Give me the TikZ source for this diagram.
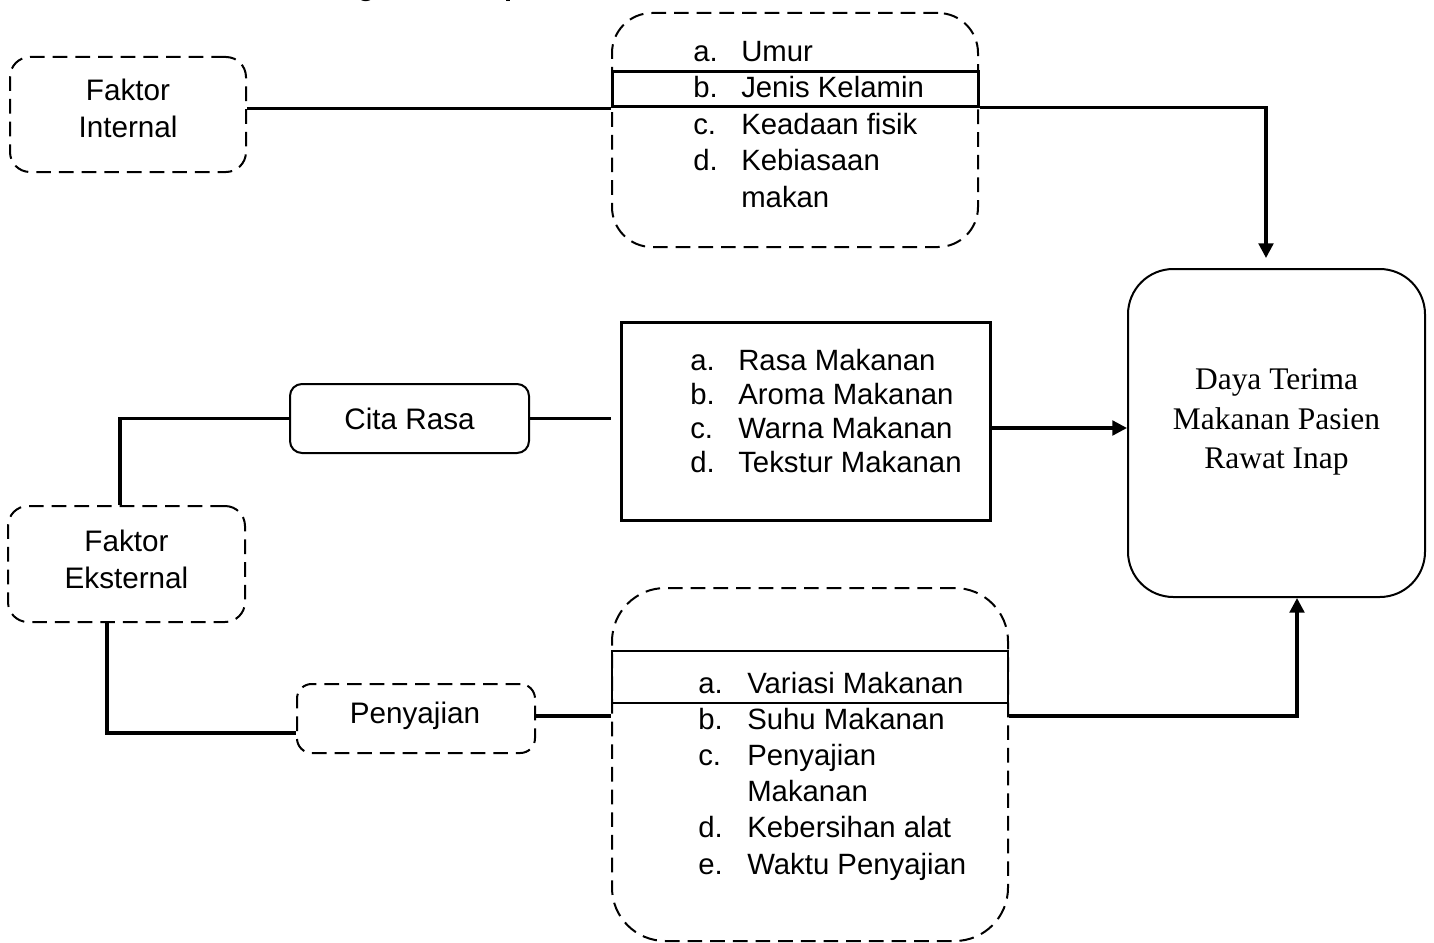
\documentclass[tikz,border=0pt]{standalone}
\usepackage{fontspec}
\setmainfont{Liberation Sans}
\newfontfamily\dayafont{Liberation Serif}
\usetikzlibrary{arrows.meta}
\begin{document}
\begin{tikzpicture}[x=0.75pt,y=-0.75pt,
  txt/.style={font=\fontsize{22.25}{27.75}\selectfont},
  dbox/.style={draw, line width=1.5pt, dash pattern=on 11pt off 6pt, rounded corners=#1, inner sep=0pt, align=center, txt},
  sbox/.style={draw, line width=1.5pt, rounded corners=#1, inner sep=0pt, align=center, txt},
  hbar/.style={draw, line width=#1, inner sep=0pt},
  btxt/.style={align=center, inner sep=0pt, txt},
  listtxt/.style={anchor=base west, inner sep=0pt, font=\fontsize{22}{#1}\selectfont},
  conn/.style={line width=2.4pt},
  arr/.style={-{Triangle[length=11pt,width=11pt]}}
]
\useasboundingbox (0,0) rectangle (1434,942);
\clip (0,0) rectangle (1434,942);
\fill[white] (0,0) rectangle (1434,942);

% title (cut off at the top edge, as in the reference)
\node[anchor=base west, inner sep=0pt, font=\bfseries\fontsize{21.75}{26}\selectfont] (title) at (275,-4) {Kerangka Konsep};

% internal factor
\node[dbox=15pt, minimum width=177pt, minimum height=86.25pt] (fi) at (128,114.5) {};
\node[btxt] (fit) at (128,108.5) {Faktor\\Internal};

% top list box
\node[dbox=30pt, minimum width=274.5pt, minimum height=175.5pt] (tb) at (795,130) {};
\node[hbar=2.25pt, minimum width=274.5pt, minimum height=25.5pt] (tbh) at (795,89) {};
\node[listtxt=27.4pt] (tl) at (693,61) {\begin{tabular}[t]{@{}p{36pt}@{}l@{}}
a. & Umur\\
b. & Jenis Kelamin\\
c. & Keadaan fisik\\
d. & Kebiasaan\\
   & makan
\end{tabular}};

% external factor
\node[dbox=15pt, minimum width=177.75pt, minimum height=87pt] (fe) at (126.5,564) {};
\node[btxt] (fet) at (126.5,559) {Faktor\\Eksternal};

% cita rasa
\node[sbox=9pt, minimum width=179.25pt, minimum height=51.75pt] (cr) at (409.5,418.5) {Cita Rasa};
\node[hbar=2.25pt, minimum width=276.75pt, minimum height=148.5pt] (cl) at (805.5,421) {};
\node[listtxt=25.5pt] (cll) at (690,370) {\begin{tabular}[t]{@{}p{36pt}@{}l@{}}
a. & Rasa Makanan\\
b. & Aroma Makanan\\
c. & Warna Makanan\\
d. & Tekstur Makanan
\end{tabular}};

% penyajian
\node[dbox=11pt, minimum width=178.5pt, minimum height=51.75pt] (pe) at (416,718.5) {};
\node[btxt] (pet) at (415,716) {Penyajian};
\node[dbox=40pt, minimum width=297pt, minimum height=264.75pt] (bb) at (810,764.5) {};
\node[hbar=1.5pt, minimum width=297pt, minimum height=39pt] (bbh) at (810,677) {};
\node[listtxt=27.15pt] (bl) at (698,693) {\begin{tabular}[t]{@{}p{36.75pt}@{}l@{}}
a. & Variasi Makanan\\
b. & Suhu Makanan\\
c. & Penyajian\\
   & Makanan\\
d. & Kebersihan alat\\
e. & Waktu Penyajian
\end{tabular}};

% outcome
\node[sbox=34pt, minimum width=222.75pt, minimum height=246pt] (daya) at (1276.5,433) {};
\node[align=center, inner sep=0pt, font=\dayafont\fontsize{23.6}{29.6}\selectfont] (dt) at (1276.5,422) {Daya Terima\\Makanan Pasien\\Rawat Inap};

% connectors
\draw[conn] (fi.east |- 0,108.5) -- (tb.west |- 0,108.5);
\coordinate (a1) at (1266,258);
\draw[conn,arr] (tbh.south east) -| (a1);

\draw[conn] ([xshift=-4.9pt]fe.north) |- (cr.west);
\coordinate (c1) at (611,418.5);
\draw[conn] (cr.east) -- (c1);
\draw[conn,arr] ([yshift=-5.25pt]cl.east) -- ([yshift=-5.25pt]cl.east -| daya.west);

\coordinate (e1) at (107,733);
\draw[conn] (fe.south -| e1) -- (e1) -- (e1 -| pe.west);
\coordinate (p1) at (611,716);
\draw[conn] (pe.east |- p1) -- (p1);
\coordinate (a2) at (1297,598);
\draw[conn,arr] (bb.east |- p1) -| (a2);
\end{tikzpicture}
\end{document}
